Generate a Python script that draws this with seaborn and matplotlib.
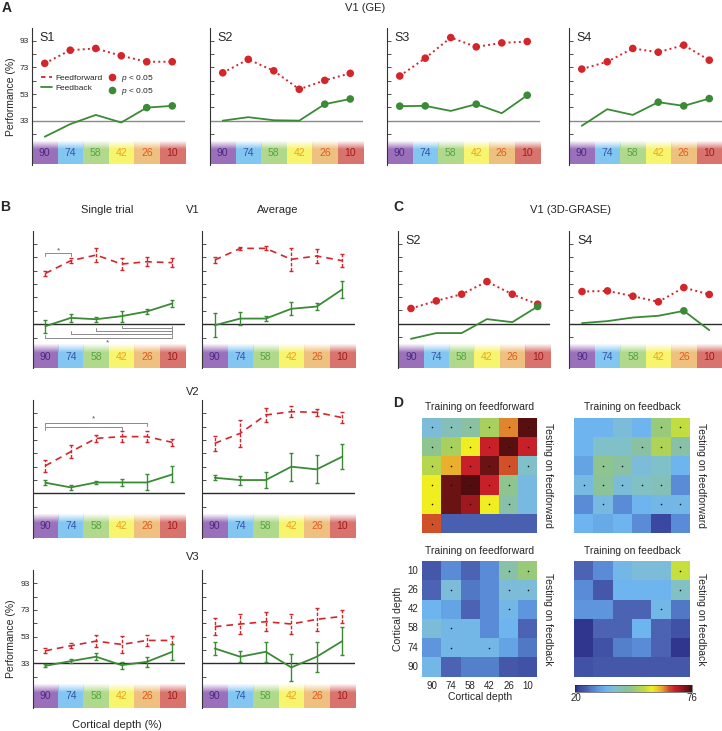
import numpy as np
import matplotlib
matplotlib.use("Agg")
import matplotlib.pyplot as plt
import seaborn as sns
from matplotlib.colors import LinearSegmentedColormap, Normalize, to_rgb
from matplotlib.cm import ScalarMappable
from matplotlib.lines import Line2D

sns.set_style("ticks")
plt.rcParams["font.family"] = ["Liberation Sans", "DejaVu Sans"]
plt.rcParams["mathtext.fontset"] = "custom"
plt.rcParams["mathtext.it"] = "Liberation Sans:italic"
plt.rcParams["mathtext.rm"] = "Liberation Sans"

# ---- data ----
depths = ["90", "74", "58", "42", "26", "10"]
depths_rev = ["10", "26", "42", "58", "74", "90"]

# A: V1 (GE), single subjects
ge_s1_ff = [76.1, 86.0, 87.3, 81.8, 77.3, 77.3]
ge_s1_fb = [20.9, 30.4, 37.3, 31.6, 42.8, 44.1]
ge_s1_sig = [0, 0, 0, 0, 1, 1]
ge_s2_ff = [69.0, 79.1, 70.5, 56.6, 63.3, 68.6]
ge_s2_fb = [33.0, 35.6, 33.3, 33.0, 45.4, 49.3]
ge_s2_sig = [0, 0, 0, 0, 1, 1]
ge_s3_ff = [66.6, 80.0, 95.5, 88.5, 91.5, 92.5]
ge_s3_fb = [43.9, 44.1, 40.3, 45.4, 38.6, 52.1]
ge_s3_sig = [1, 1, 0, 1, 0, 1]
ge_s4_ff = [71.8, 77.3, 87.3, 84.5, 89.8, 78.5]
ge_s4_fb = [29.1, 41.6, 37.3, 46.9, 44.1, 49.6]
ge_s4_sig = [0, 0, 0, 1, 1, 1]

# C: V1 (3D-GRASE)
gr_s2_ff = [44.5, 50.2, 55.2, 64.7, 55.2, 47.7]
gr_s2_fb = [21.7, 26.0, 26.0, 36.5, 34.2, 46.0]
gr_s2_sig = [0, 0, 0, 0, 0, 1]
gr_s4_ff = [57.2, 57.7, 53.7, 49.5, 60.2, 55.0]
gr_s4_fb = [33.5, 35.0, 37.7, 39.0, 42.7, 28.2]
gr_s4_sig = [0, 0, 0, 0, 1, 0]

# B: group results (mean, error)
v1_single_ff = [71.0, 80.5, 84.7, 78.0, 79.7, 79.0]
v1_single_ff_err = [2.0, 2.0, 5.0, 4.5, 3.5, 3.5]
v1_single_fb = [31.5, 37.7, 36.7, 39.0, 42.5, 48.5]
v1_single_fb_err = [5.0, 3.0, 2.0, 4.0, 2.0, 2.5]
v1_avg_ff = [81.0, 89.7, 89.7, 81.5, 84.0, 80.5]
v1_avg_ff_err = [2.5, 1.0, 1.5, 8.7, 5.6, 4.9]
v1_avg_fb = [32.2, 37.2, 37.2, 44.5, 46.2, 59.0]
v1_avg_fb_err = [9.0, 4.7, 2.0, 5.0, 2.5, 6.6]

v2_single_ff = [53.7, 64.2, 74.2, 75.5, 75.5, 71.2]
v2_single_ff_err = [4.4, 5.0, 2.5, 4.2, 4.0, 2.5]
v2_single_fb = [41.0, 37.5, 41.2, 41.2, 41.2, 47.2]
v2_single_fb_err = [2.0, 2.0, 1.0, 2.3, 6.0, 6.0]
v2_avg_ff = [70.5, 78.0, 91.7, 94.2, 93.7, 89.7]
v2_avg_ff_err = [5.6, 10.0, 5.6, 4.0, 2.5, 4.0]
v2_avg_fb = [44.7, 43.0, 43.0, 53.0, 51.0, 60.5]
v2_avg_fb_err = [2.0, 3.4, 6.0, 10.5, 10.5, 9.5]

v3_single_ff = [42.5, 46.2, 49.7, 47.2, 50.2, 50.2]
v3_single_ff_err = [1.7, 2.0, 4.7, 6.2, 4.2, 3.0]
v3_single_fb = [31.2, 34.7, 38.0, 31.7, 34.2, 41.7]
v3_single_fb_err = [1.2, 1.6, 2.5, 2.7, 3.7, 6.2]
v3_avg_ff = [60.5, 62.5, 64.2, 62.5, 66.0, 68.2]
v3_avg_ff_err = [6.2, 7.7, 7.0, 7.2, 8.7, 5.0]
v3_avg_fb = [44.2, 38.0, 41.7, 30.0, 38.0, 49.7]
v3_avg_fb_err = [5.0, 4.2, 7.7, 10.0, 11.2, 10.4]

# D: cross-decoding matrices (rows: test depth 10..90, cols: train depth 90..10)
hm_ff_ff = [[38, 41.5, 44, 50, 63, 75],
            [46.5, 50, 57, 68, 75, 68],
            [52, 61, 68, 74, 65, 40],
            [57, 74, 75.5, 68, 46.5, 37],
            [57, 74, 71, 57, 43, 37],
            [65, 25.5, 25.5, 25.5, 25.5, 25.5]]
sig_ff_ff = [[1, 1, 1, 1, 1, 1], [1, 1, 1, 1, 1, 1], [1, 1, 1, 1, 1, 1],
             [1, 1, 1, 1, 1, 0], [1, 0, 1, 1, 1, 0], [1, 0, 0, 0, 0, 0]]
hm_fb_ff = [[35, 35, 38, 35, 48, 53.5],
            [35, 40, 40, 44, 51, 43],
            [32.5, 46.5, 44, 38, 40, 35],
            [37, 45, 38, 40.5, 41.5, 30],
            [30, 37, 30, 35, 36, 36],
            [35, 33.5, 35, 30, 22, 30]]
sig_fb_ff = [[0, 0, 0, 0, 1, 1], [0, 0, 0, 1, 1, 1], [0, 1, 1, 0, 0, 0],
             [1, 1, 1, 1, 1, 0], [0, 1, 0, 0, 1, 1], [0, 0, 0, 0, 0, 0]]
hm_ff_fb = [[24.5, 30, 26, 30, 43, 48],
            [26, 38, 27.5, 30, 38, 38],
            [35, 32.5, 26, 30, 36, 31],
            [38, 36, 36, 30, 35, 26],
            [31, 36, 36, 36, 32.5, 27.5],
            [36, 26, 28.5, 28.5, 24.5, 23.5]]
sig_ff_fb = [[0, 0, 0, 0, 1, 1], [0, 1, 0, 0, 1, 1], [0, 0, 0, 0, 1, 0],
             [0, 1, 0, 0, 0, 0], [0, 1, 0, 1, 0, 0], [0, 0, 0, 0, 0, 0]]
hm_fb_fb = [[26, 30, 36, 38, 38, 54],
            [30, 24.5, 35, 35, 35, 40.5],
            [31, 31, 26, 26, 36, 27.5],
            [21, 26, 26, 35, 26, 23.5],
            [21, 23.5, 28.5, 30, 26, 21],
            [23.5, 24.5, 24.5, 24.5, 24.5, 24.5]]
sig_fb_fb = [[0, 0, 0, 0, 0, 1], [0, 0, 0, 0, 0, 1], [0, 0, 0, 0, 1, 0],
             [0, 0, 0, 0, 0, 0], [0, 0, 0, 0, 0, 0], [0, 0, 0, 0, 0, 0]]

# ---- styling ----
RED = "#d3262b"
GREEN = "#3b8a35"
box_colors = ["#9b70bb", "#82c6f2", "#b1d98c", "#f7f56e", "#efc07f", "#d8746d"]
box_text = ["#4b2a82", "#3554a6", "#55a444", "#f0a01e", "#e05a22", "#a3191b"]

cm_vals = [20, 22, 24.5, 26, 27.5, 30, 32.5, 35, 38, 40, 43, 46.5, 50, 53.5, 57,
           62, 65, 68, 71, 75, 76]
cm_cols = ["#28287e", "#3a48a0", "#4458a8", "#4c64b4", "#5078c4", "#5a8cd8",
           "#64a4e4", "#6eb4ee", "#7cbcd8", "#80c0c8", "#88c0a8", "#8cc490",
           "#a8d060", "#c0dc40", "#f0f020", "#e8a030", "#d05028", "#c82028",
           "#a01820", "#5a1010", "#4a0810"]
cmap = LinearSegmentedColormap.from_list(
    "depth_jet", [((v - 20) / 56, c) for v, c in zip(cm_vals, cm_cols)])

W, H = 722, 731
fig = plt.figure(figsize=(W / 100, H / 100), dpi=100)
fig.patch.set_facecolor("white")


def add_ax(x0, y0, x1, y1):
    return fig.add_axes([x0 / W, 1 - y1 / H, (x1 - x0) / W, (y1 - y0) / H])


def ftext(x, y, s, **kw):
    kw.setdefault("ha", "center")
    kw.setdefault("va", "center")
    fig.text(x / W, 1 - y / H, s, **kw)


def depth_axis(ax, ylabels=False, chance="#2b2b2b"):
    ax.set_xlim(-0.5, 5.5)
    ax.set_ylim(0, 102.7)
    for i, d in enumerate(depths):
        rgba = np.zeros((40, 1, 4))
        rgba[..., :3] = to_rgb(box_colors[i])
        rgba[:, 0, 3] = np.clip(0.08 + np.linspace(0, 1, 40) / 0.38, 0, 1)
        ax.imshow(rgba, extent=(i - 0.5, i + 0.5, 0, 17.3), aspect="auto",
                  origin="upper", zorder=0)
        ax.text(i, 8.3, d, color=box_text[i], ha="center", va="center",
                fontsize=7.5)
    ax.axhline(33, color=chance, lw=1.0, zorder=1)
    sns.despine(ax=ax, bottom=True)
    ax.spines["left"].set_color("#333333")
    ax.spines["left"].set_linewidth(0.8)
    ax.set_xticks([])
    ax.set_yticks(range(23, 94, 10))
    if ylabels:
        ax.set_yticklabels(["", "33", "", "53", "", "73", "", "93"])
    else:
        ax.set_yticklabels([])
    ax.tick_params(axis="y", direction="in", length=3, width=0.6,
                   labelsize=6, pad=2, color="#333333")
    ax.set_facecolor("none")


def subject_plot(ax, ff, fb, sig, title, ylabels=False, chance="#2b2b2b"):
    depth_axis(ax, ylabels, chance)
    xs = np.arange(6)
    sns.lineplot(x=xs, y=ff, ax=ax, color=RED, linestyle=":", lw=1.4)
    sns.scatterplot(x=xs, y=ff, ax=ax, color=RED, s=30, edgecolor="none",
                    zorder=3)
    sns.lineplot(x=xs, y=fb, ax=ax, color=GREEN, lw=1.3)
    sx = [x for x, s in zip(xs, sig) if s]
    sy = [y for y, s in zip(fb, sig) if s]
    if sx:
        sns.scatterplot(x=sx, y=sy, ax=ax, color=GREEN, s=30,
                        edgecolor="none", zorder=3)
    ax.text(0.05, 0.93, title, transform=ax.transAxes, fontsize=9,
            ha="left", va="center")


def group_plot(ax, ff, ff_err, fb, fb_err, ylabels=False):
    depth_axis(ax, ylabels)
    xs = np.arange(6)
    c = ax.errorbar(xs, ff, yerr=ff_err, color=RED, ls=(0, (4, 3)), lw=1.2,
                    elinewidth=1.0, capsize=1.3, capthick=1.0, zorder=3)
    for bl in c[2]:
        bl.set_linestyle((0, (2.5, 1.2)))
    ax.errorbar(xs, fb, yerr=fb_err, color=GREEN, lw=1.3, elinewidth=1.0,
                capsize=1.3, capthick=1.0, zorder=3)


def bracket(ax, x0, x1, y, up=False, tick=2.2):
    t = tick if up else -tick
    ax.plot([x0, x0, x1, x1], [y + t, y, y, y + t], color="#8a8a8a", lw=0.7,
            zorder=2)


# ---- panel A ----
ftext(7, 8, "A", fontsize=10, fontweight="bold")
ftext(365, 8, "V1 (GE)", fontsize=8)
a_x = [(32, 185), (210, 363), (387, 540), (569, 722)]
a_data = [(ge_s1_ff, ge_s1_fb, ge_s1_sig, "S1"),
          (ge_s2_ff, ge_s2_fb, ge_s2_sig, "S2"),
          (ge_s3_ff, ge_s3_fb, ge_s3_sig, "S3"),
          (ge_s4_ff, ge_s4_fb, ge_s4_sig, "S4")]
for k, ((x0, x1), (ff, fb, sig, name)) in enumerate(zip(a_x, a_data)):
    ax = add_ax(x0, 28, x1, 164.5)
    subject_plot(ax, ff, fb, sig, name, ylabels=(k == 0), chance="#8a8a8a")
    if k == 0:
        ax.set_ylabel("Performance (%)", fontsize=7.5, labelpad=3)
        handles = [Line2D([], [], color=RED, ls=(0, (2.5, 2)), lw=1.3),
                   Line2D([], [], color=GREEN, lw=1.3),
                   Line2D([], [], color=RED, marker="o", ls="none", ms=5.5,
                          mec="none"),
                   Line2D([], [], color=GREEN, marker="o", ls="none", ms=5.5,
                          mec="none")]
        labels = ["Feedforward", "Feedback", "$p$ < 0.05", "$p$ < 0.05"]
        ax.legend(handles, labels, ncol=2, frameon=False, fontsize=6,
                  loc="center left", bbox_to_anchor=(0.04, 0.585),
                  handlelength=1.3, handletextpad=0.4, columnspacing=0.5,
                  labelspacing=0.25, borderaxespad=0)

# ---- panel B ----
ftext(5, 207, "B", fontsize=10, fontweight="bold")
ftext(107, 210, "Single trial", fontsize=8)
ftext(193, 210, "V1", fontsize=8)
ftext(278, 210, "Average", fontsize=8)
ftext(193, 392, "V2", fontsize=8)
ftext(193, 557, "V3", fontsize=8)
ftext(117, 725, "Cortical depth (%)", fontsize=8)

rows = [(231, 368.3, v1_single_ff, v1_single_ff_err, v1_single_fb,
         v1_single_fb_err, v1_avg_ff, v1_avg_ff_err, v1_avg_fb, v1_avg_fb_err),
        (400.3, 537.5, v2_single_ff, v2_single_ff_err, v2_single_fb,
         v2_single_fb_err, v2_avg_ff, v2_avg_ff_err, v2_avg_fb, v2_avg_fb_err),
        (570.3, 707.5, v3_single_ff, v3_single_ff_err, v3_single_fb,
         v3_single_fb_err, v3_avg_ff, v3_avg_ff_err, v3_avg_fb, v3_avg_fb_err)]
b_axes = []
for r, (y0, y1, sff, sffe, sfb, sfbe, aff, affe, afb, afbe) in enumerate(rows):
    ax1 = add_ax(32.7, y0, 185, y1)
    group_plot(ax1, sff, sffe, sfb, sfbe, ylabels=(r == 2))
    ax2 = add_ax(202, y0, 355, y1)
    group_plot(ax2, aff, affe, afb, afbe)
    b_axes.append((ax1, ax2))
    if r == 2:
        ax1.set_ylabel("Performance (%)", fontsize=7.5, labelpad=3)

# significance brackets
ax = b_axes[0][0]
bracket(ax, 0, 1, 86)
ax.text(0.5, 87.5, "*", fontsize=6, color="#555555", ha="center", va="center")
for x0, y in [(3, 29.8), (2, 28.0), (1, 26.0), (0, 22.7)]:
    bracket(ax, x0, 5, y, up=True)
ax.text(2.45, 19.0, "*", fontsize=6, color="#555555", ha="center", va="center")
ax = b_axes[1][0]
bracket(ax, 0, 4, 85.7)
bracket(ax, 0, 3, 82.8)
ax.text(1.9, 88.5, "*", fontsize=6, color="#555555", ha="center", va="center")

# ---- panel C ----
ftext(398, 207, "C", fontsize=10, fontweight="bold")
ftext(570, 210, "V1 (3D-GRASE)", fontsize=8)
axc1 = add_ax(398.3, 231, 550.3, 367.7)
subject_plot(axc1, gr_s2_ff, gr_s2_fb, gr_s2_sig, "S2")
axc2 = add_ax(569.3, 231, 722, 367.7)
subject_plot(axc2, gr_s4_ff, gr_s4_fb, gr_s4_sig, "S4")

# ---- panel D ----
ftext(398.5, 403, "D", fontsize=10, fontweight="bold")
hm_pos = [(422.3, 417.7, 537.3, 533.3), (574, 417.7, 690, 533.3),
          (422.3, 561, 537.3, 676.7), (574, 561, 690, 676.7)]
hm_data = [(hm_ff_ff, sig_ff_ff, "Training on feedforward", "Testing on feedforward"),
           (hm_fb_ff, sig_fb_ff, "Training on feedback", "Testing on feedforward"),
           (hm_ff_fb, sig_ff_fb, "Training on feedforward", "Testing on feedback"),
           (hm_fb_fb, sig_fb_fb, "Training on feedback", "Testing on feedback")]
for k, ((x0, y0, x1, y1), (m, sig, ttl, side)) in enumerate(zip(hm_pos, hm_data)):
    ax = add_ax(x0, y0, x1, y1)
    show = (k == 2)
    sns.heatmap(np.array(m), ax=ax, cmap=cmap, vmin=20, vmax=76, cbar=False,
                xticklabels=depths if show else False,
                yticklabels=depths_rev if show else False)
    sig = np.array(sig)
    ii, jj = np.nonzero(sig)
    ax.scatter(jj + 0.5, ii + 0.5, s=1.3, color="#111111", zorder=3,
               linewidths=0)
    ax.tick_params(length=0, labelsize=7, pad=3)
    if show:
        ax.set_yticklabels(depths_rev, rotation=0)
        ax.set_xticklabels(depths, rotation=0)
        ax.set_xlabel("Cortical depth", fontsize=7.5, labelpad=1)
        ax.set_ylabel("Cortical depth", fontsize=7.5, labelpad=3)
    ftext((x0 + x1) / 2, y0 - 10.5, ttl, fontsize=7.5)
    ftext(x1 + 10.5, (y0 + y1) / 2, side, fontsize=7.5, rotation=270)

cax = add_ax(575, 685, 691.7, 691.7)
cb = fig.colorbar(ScalarMappable(norm=Normalize(20, 76), cmap=cmap), cax=cax,
                  orientation="horizontal")
cb.set_ticks([])
cb.outline.set_linewidth(0.4)
ftext(575.7, 698, "20", fontsize=7)
ftext(691.7, 698, "76", fontsize=7)

fig.savefig("out.png", dpi=100, facecolor="white")
